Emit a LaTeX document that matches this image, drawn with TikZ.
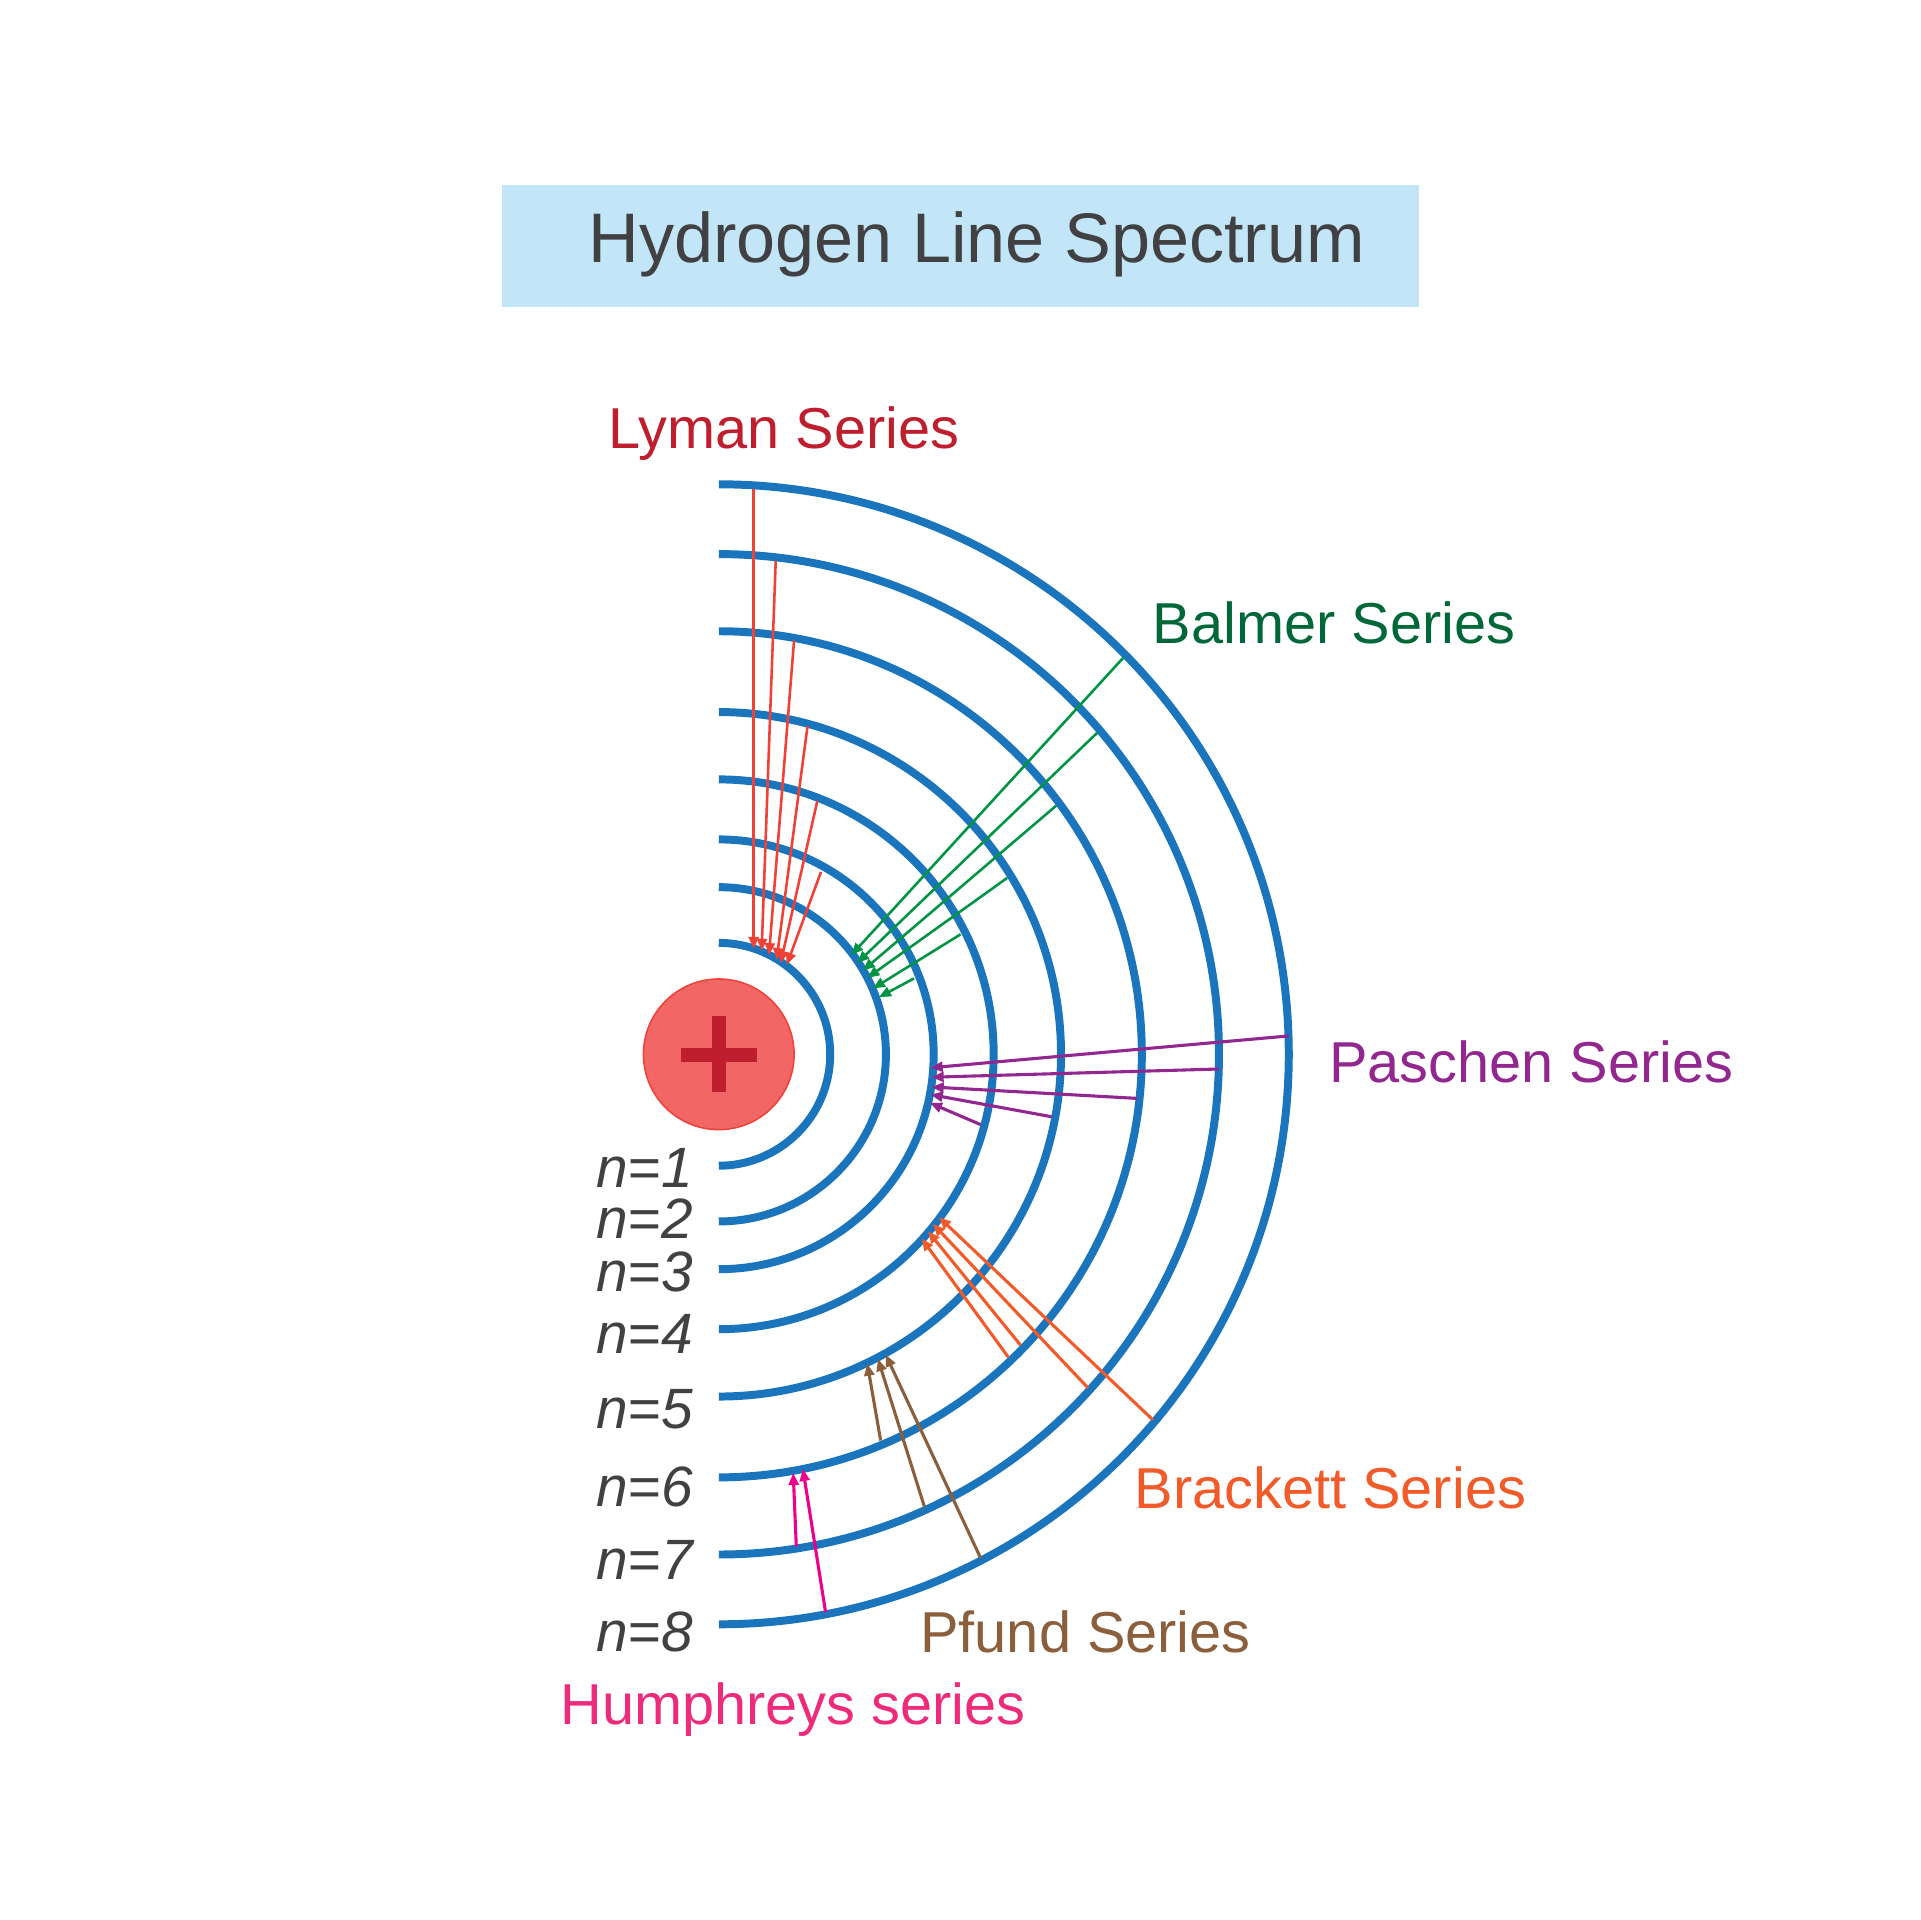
\documentclass[tikz,border=0pt]{standalone}
\usepackage{fontspec}
\setmainfont{Liberation Sans}
\usetikzlibrary{arrows.meta}
\definecolor{orbitblue}{HTML}{1B75BC}
\definecolor{titlebg}{HTML}{C2E6F8}
\definecolor{inkgray}{HTML}{414042}
\definecolor{corered}{HTML}{F26666}
\definecolor{coreedge}{HTML}{EF4136}
\definecolor{plusred}{HTML}{BE1E2D}
\definecolor{lymanline}{HTML}{EF4136}
\definecolor{balmerline}{HTML}{009444}
\definecolor{balmertext}{HTML}{006838}
\definecolor{paschenline}{HTML}{92278F}
\definecolor{brackettline}{HTML}{F15A29}
\definecolor{pfundline}{HTML}{8B5E3C}
\definecolor{humphline}{HTML}{EC008C}
\definecolor{humphtext}{HTML}{EE2A7B}
\tikzset{
  orbit/.style={draw=orbitblue, line width=1.85pt},
  ray/.style={-{Triangle[length=2.8pt, width=2.3pt]}, line width=0.6pt},
  wideray/.style={ray, line width=0.72pt},
  serieslabel/.style={inner sep=0pt, font=\fontsize{13.4}{16}\selectfont},
  levellabel/.style={inner sep=0pt, anchor=east, text=inkgray, font=\fontsize{13.2}{16}\selectfont\itshape}
}

\begin{document}
\begin{tikzpicture}[x=0.01cm, y=-0.01cm]
  \useasboundingbox (-0.5,-1) rectangle (1567.5,1567);
  % title
  \node (titlebar) [fill=titlebg, minimum width=7.48cm, minimum height=0.99cm, inner sep=0pt] at (784,200) {};
  \node (title) [inner sep=0pt, text=inkgray, font=\fontsize{16.3}{20}\selectfont] at (797,198.5) {Hydrogen Line Spectrum};
  % nucleus
  \node (nucleus) [circle, draw=coreedge, fill=corered, line width=0.35pt, minimum size=1.23cm, inner sep=0pt] at (586.5,860) {};
  \fill[plusred] (556,855) rectangle (618,866);
  \fill[plusred] (581,829) rectangle (592,891);
  % orbits
  \foreach \r in {91,136.5,175.5,224.5,279.5,345.5,408.5,465.5}
    \draw[orbit] (586.5,860-\r) arc (-90:90:\r);
  % level names
  \foreach \n/\y in {1/953,2/994,3/1038,4/1088,5/1150,6/1213,7/1273,8/1332}
    \node (level\n) [levellabel] at (566,\y) {n=\n};
  % series names
  \node (lyman) [serieslabel, text=plusred] at (640,353) {Lyman Series};
  \node (balmer) [serieslabel, text=balmertext] at (1089,508) {Balmer Series};
  \node (paschen) [serieslabel, text=paschenline] at (1250,866) {Paschen Series};
  \node (brackett) [serieslabel, text=brackettline] at (1086,1214) {Brackett Series};
  \node (pfund) [serieslabel, text=pfundline] at (886,1332) {Pfund Series};
  \node (humphreys) [serieslabel, text=humphtext] at (647,1395.5) {Humphreys series};
  % ends of the rays
  \foreach \a/\x/\y in {la/615/398, lb/633/457, lc/648/522, ld/659/592, le/667/653, lf/670/711,
      lA/615/774, lB/621.5/775.5, lC/627.5/779, lD/633.7/783, lE/637/785.5, lF/642/787,
      ba/917/536, bb/896/597, bc/862/657, bd/822/716, be/784/762, bf/746/798,
      bA/694.7/779, bB/699.6/785.4, bC/704.2/791.6, bD/707.8/797.6, bE/712.4/806.3, bF/717.3/813.4,
      pa/1052/845, pb/995/872, pc/928/896, pd/858.3/911, pe/800.3/917.4,
      pA/759.5/871, pB/760.3/878.7, pC/760.3/886.7, pD/759.5/892.9, pE/759/899.7,
      ka/941/1158.5, kb/888/1132.4, kc/833/1097.6, kd/823/1107.4,
      kA/766.3/993, kB/761.4/998.5, kC/757.3/1004.5, kD/752.2/1010.5,
      fa/800.3/1271.3, fb/754.6/1230, fc/718.7/1175.4,
      fA/722.8/1105.2, fB/716.5/1108.8, fC/707.8/1112.6,
      ha/673.7/1315.4, hb/649.8/1261.8,
      hA/655.2/1198.6, hB/647.3/1201.9}
    \coordinate (\a) at (\x,\y);
  % rays
  \foreach \s/\e in {la/lA, lb/lB, lc/lC, ld/lD, le/lE, lf/lF}
    \draw[ray, lymanline] (\s) -- (\e);
  \foreach \s/\e in {ba/bA, bb/bB, bc/bC, bd/bD, be/bE, bf/bF}
    \draw[ray, balmerline] (\s) -- (\e);
  \foreach \s/\e in {pa/pA, pb/pB, pc/pC, pd/pD, pe/pE}
    \draw[wideray, paschenline] (\s) -- (\e);
  \foreach \s/\e in {ka/kA, kb/kB, kc/kC, kd/kD}
    \draw[wideray, brackettline] (\s) -- (\e);
  \foreach \s/\e in {fa/fA, fb/fB, fc/fC}
    \draw[wideray, pfundline] (\s) -- (\e);
  \foreach \s/\e in {ha/hA, hb/hB}
    \draw[wideray, humphline] (\s) -- (\e);
\end{tikzpicture}
\end{document}
